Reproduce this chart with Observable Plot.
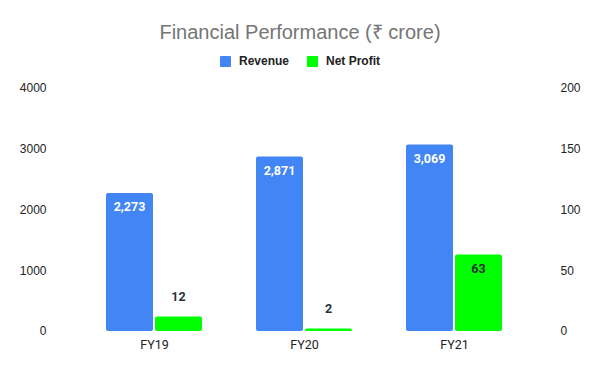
<!DOCTYPE html>
<html>
<head>
<meta charset="utf-8">
<script src="https://cdn.jsdelivr.net/npm/d3@7"></script>
<script src="https://cdn.jsdelivr.net/npm/@observablehq/plot@0.6"></script>
<style>
  html, body { margin: 0; padding: 0; background: #fff; }
  #wrap { width: 600px; height: 371px; position: relative; font-family: "Liberation Sans", Arial, sans-serif; }
  #title { position: absolute; top: 18px; left: 0; width: 600px; text-align: center; font-size: 20px; color: #757575; }
  #legend { position: absolute; top: 54px; left: 0; width: 600px; display: flex; justify-content: center; gap: 18px; font-size: 12px; font-weight: bold; color: #222; }
  #legend span { display: inline-flex; align-items: center; }
  #legend i { display: inline-block; width: 11px; height: 11px; border-radius: 1px; margin-right: 8px; }
  #chart { position: absolute; top: 75px; left: 0; }
</style>
</head>
<body>
<div id="wrap">
  <div id="title">Financial Performance (₹ crore)</div>
  <div id="legend"></div>
  <div id="chart"></div>
</div>
<script>
const categories = ["FY19", "FY20", "FY21"];
const revenue = [2273, 2871, 3069];
const netProfit = [12, 2, 63];
const seriesNames = ["Revenue", "Net Profit"];
const seriesColors = ["#4285F4", "#00FF00"];
const leftTicks = [0, 1000, 2000, 3000, 4000];
const rightTicks = [0, 50, 100, 150, 200];

const ratio = 4000 / 200; // right axis maps 0–200 onto left axis 0–4000
const rows = categories.map((c, i) => ({cat: c, rev: revenue[i], np: netProfit[i]}));

const legend = document.getElementById("legend");
seriesNames.forEach((n, i) => {
  const s = document.createElement("span");
  s.innerHTML = `<i style="background:${seriesColors[i]}"></i>${n}`;
  legend.appendChild(s);
});

const fmt = d3.format(",");
const chart = Plot.plot({
  width: 600,
  height: 296,
  marginTop: 13,
  marginBottom: 40,
  marginLeft: 79,
  marginRight: 71,
  style: {fontFamily: "'Liberation Sans', Arial, sans-serif", fontSize: "12px", color: "#222"},
  x: {domain: categories, padding: 0, label: null},
  y: {domain: [0, 4000], label: null},
  marks: [
    Plot.barY(rows, {x: "cat", y: "rev", fill: seriesColors[0], insetLeft: 27, insetRight: 76, rx: 2}),
    Plot.barY(rows, {x: "cat", y: d => d.np * ratio, fill: seriesColors[1], insetLeft: 76, insetRight: 27, rx: 2}),
    Plot.text(rows, {x: "cat", y: "rev", text: d => fmt(d.rev), dx: -25, dy: 14, fill: "white", fontWeight: "bold", fontSize: 12.5, fontFamily: "Roboto"}),
    Plot.text(rows.filter(d => d.np * ratio >= 600), {x: "cat", y: d => d.np * ratio, text: d => fmt(d.np), dx: 24, dy: 14, fill: "#263238", fontWeight: "bold", fontSize: 12.5, fontFamily: "Roboto"}),
    Plot.text(rows.filter(d => d.np * ratio < 600), {x: "cat", y: d => d.np * ratio, text: d => fmt(d.np), dx: 24, dy: -20, fill: "#263238", fontWeight: "bold", fontSize: 12.5, fontFamily: "Roboto"}),
    Plot.axisX({tickSize: 0, tickPadding: 9, fontFamily: "Roboto", fontSize: 12.5, color: "#222"}),
    Plot.axisY({anchor: "left", ticks: leftTicks, tickFormat: d => String(d), tickSize: 0, tickPadding: 33, color: "#222"}),
    Plot.axisY({anchor: "right", ticks: rightTicks.map(t => t * ratio), tickFormat: d => String(d / ratio), tickSize: 0, tickPadding: 31, color: "#222"})
  ]
});
document.getElementById("chart").appendChild(chart);
</script>
</body>
</html>
